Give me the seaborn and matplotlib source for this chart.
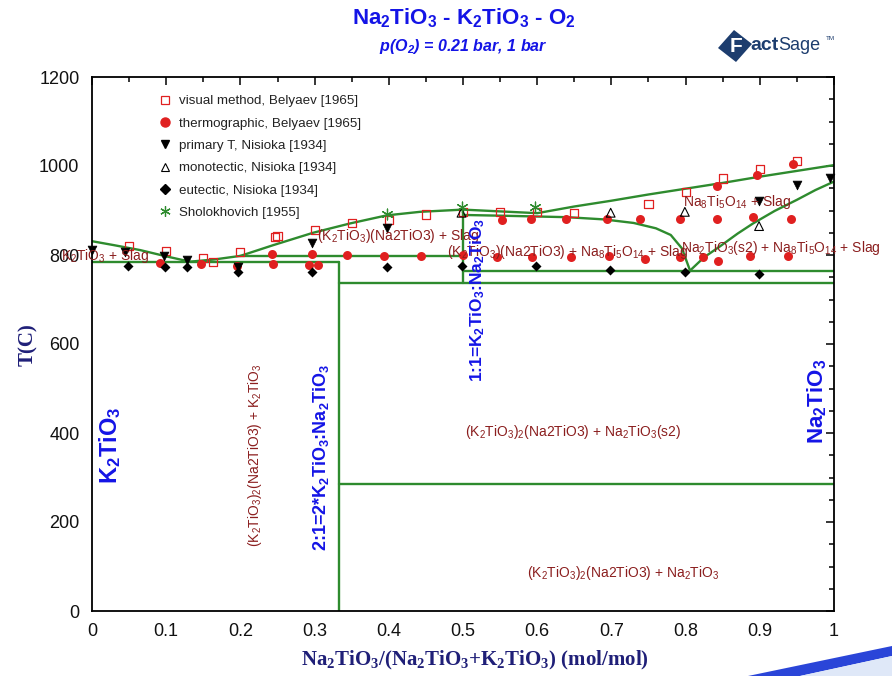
import numpy as np
import pandas as pd
import matplotlib
matplotlib.use("Agg")
import matplotlib.pyplot as plt
import seaborn as sns
from matplotlib.lines import Line2D
from matplotlib.patches import Polygon
from matplotlib.ticker import MultipleLocator

# ---------------- data ----------------
visual_x = [0.05, 0.1, 0.15, 0.163, 0.2, 0.247, 0.25, 0.3, 0.35, 0.4, 0.45, 0.5, 0.55, 0.6, 0.65, 0.75, 0.8, 0.85, 0.9, 0.95]
visual_T = [820, 810, 793, 784, 806, 841, 843, 856, 871, 879, 891, 897, 897, 897, 895, 914, 941, 972, 993, 1012]

thermo_x = [0.092, 0.147, 0.195, 0.242, 0.244, 0.292, 0.297, 0.305, 0.344, 0.393, 0.443, 0.5,
            0.546, 0.552, 0.591, 0.593, 0.639, 0.645, 0.694, 0.697, 0.739, 0.745, 0.792, 0.792,
            0.824, 0.842, 0.843, 0.842, 0.887, 0.891, 0.896, 0.938, 0.942, 0.945]
thermo_T = [782, 780, 776, 802, 779, 778, 802, 778, 800, 798, 798, 800,
            795, 879, 882, 796, 882, 795, 880, 798, 882, 790, 881, 796,
            796, 882, 787, 955, 798, 886, 980, 798, 882, 1004]

primT_x = [0.0, 0.044, 0.097, 0.128, 0.197, 0.297, 0.397, 0.899, 0.95, 0.995]
primT_T = [812, 807, 798, 789, 774, 826, 860, 922, 957, 972]

mono_x = [0.498, 0.699, 0.799, 0.899]
mono_T = [895, 895, 897, 865]

eut_x = [0.048, 0.098, 0.128, 0.197, 0.297, 0.397, 0.498, 0.598, 0.698, 0.799, 0.899]
eut_T = [775, 772, 774, 761, 761, 774, 776, 776, 766, 762, 757]

shol_x = [0.397, 0.498, 0.597]
shol_T = [893, 907, 907]

# calculated phase boundaries
liqK_x = [0.0, 0.03, 0.065, 0.1, 0.132]
liqK_T = [831, 822, 811, 797, 785]
liqMid_x = [0.132, 0.165, 0.2, 0.244, 0.298, 0.348, 0.397, 0.442, 0.5]
liqMid_T = [785, 790, 798, 822, 850, 871, 889, 897, 902]
liqNa_x = [0.5, 0.55, 0.6, 0.65, 0.7, 0.75, 0.8, 0.85, 0.9, 0.95, 1.0]
liqNa_T = [902, 898, 894, 909, 922, 936, 949, 962, 976, 989, 1002]
bndD_x = [0.5, 0.56, 0.64, 0.69, 0.73, 0.76, 0.78, 0.795, 0.806]
bndD_T = [890, 888, 885, 880, 872, 860, 845, 815, 765]
bndE_x = [0.806, 0.825, 0.846, 0.87, 0.891, 0.92, 0.95, 0.975, 1.0]
bndE_T = [765, 795, 819, 848, 871, 899, 924, 946, 965]

hline_T = [785, 798, 765, 738, 285]
hline_x0 = [0.0, 0.2, 0.5, 0.3333, 0.3333]
hline_x1 = [0.3333, 0.5, 1.0, 1.0, 1.0]
vline_x = [0.3333, 0.5]
vline_T0 = [0, 738]
vline_T1 = [785, 902]

xticks = [0, 0.1, 0.2, 0.3, 0.4, 0.5, 0.6, 0.7, 0.8, 0.9, 1]
xtick_labels = ["0", "0.1", "0.2", "0.3", "0.4", "0.5", "0.6", "0.7", "0.8", "0.9", "1"]
yticks = [0, 200, 400, 600, 800, 1000, 1200]

legend_labels = ["visual method, Belyaev [1965]", "thermographic, Belyaev [1965]",
                 "primary T, Nisioka [1934]", "monotectic, Nisioka [1934]",
                 "eutectic, Nisioka [1934]", "Sholokhovich [1955]"]

# ---------------- style ----------------
sns.set_theme(style="white")
plt.rcParams["font.family"] = ["Liberation Sans", "DejaVu Sans"]
plt.rcParams["mathtext.default"] = "regular"

GREEN = "#2e8b2e"
RED = "#e02020"
DRED = "#8b1e1e"
BLUE = "#1414e6"
NAVY = "#1f1f78"

W, H = 892, 676
fig = plt.figure(figsize=(W / 100, H / 100), dpi=100)
ax = fig.add_axes([92 / W, (H - 611) / H, 742 / W, 534 / H])

# ---------------- lines ----------------
segs = []
def add_seg(name, xs, ts):
    for xv, tv in zip(xs, ts):
        segs.append({"seg": name, "x": xv, "T": tv})

add_seg("liqK", liqK_x, liqK_T)
add_seg("liqMid", liqMid_x, liqMid_T)
add_seg("liqNa", liqNa_x, liqNa_T)
add_seg("bndD", bndD_x, bndD_T)
add_seg("bndE", bndE_x, bndE_T)
for i, (t, a, b) in enumerate(zip(hline_T, hline_x0, hline_x1)):
    add_seg(f"h{i}", [a, b], [t, t])
for i, (xv, a, b) in enumerate(zip(vline_x, vline_T0, vline_T1)):
    add_seg(f"v{i}", [xv, xv], [a, b])
lines_df = pd.DataFrame(segs)
sns.lineplot(data=lines_df, x="x", y="T", units="seg", estimator=None, sort=False,
             color=GREEN, lw=1.7, ax=ax, legend=False)

# ---------------- points ----------------
sns.scatterplot(x=visual_x, y=visual_T, marker="s", s=34, color=RED, facecolor="none",
                edgecolor=RED, linewidth=0.9, ax=ax, zorder=5)
sns.scatterplot(x=thermo_x, y=thermo_T, marker="o", s=42, color=RED, edgecolor=RED,
                linewidth=0, ax=ax, zorder=5)
sns.scatterplot(x=primT_x, y=primT_T, marker="v", s=40, color="black", edgecolor="black",
                linewidth=0.5, ax=ax, zorder=5, clip_on=False)
sns.scatterplot(x=mono_x, y=mono_T, marker="^", s=40, color="black", facecolor="none",
                edgecolor="black", linewidth=0.8, ax=ax, zorder=5)
sns.scatterplot(x=eut_x, y=eut_T, marker="D", s=26, color="black", edgecolor="black",
                linewidth=0, ax=ax, zorder=5)
sns.scatterplot(x=shol_x, y=shol_T, marker=(6, 2, 0), s=60, color=GREEN, edgecolor=GREEN,
                linewidth=0.9, ax=ax, zorder=5)

# ---------------- axes ----------------
ax.set_xlim(0, 1)
ax.set_ylim(0, 1200)
ax.set_xticks(xticks)
ax.set_xticklabels(xtick_labels)
ax.set_yticks(yticks)
ax.xaxis.set_minor_locator(MultipleLocator(0.05))
ax.yaxis.set_minor_locator(MultipleLocator(50))
ax.tick_params(which="both", direction="in", top=True, right=True, colors="black",
               labelcolor="#111111", labelsize=13, width=1.1)
ax.tick_params(which="major", length=6, pad=9)
ax.tick_params(which="minor", length=3.5)
ax.set_xlabel("")
ax.set_ylabel("")
for sp in ax.spines.values():
    sp.set_color("black")
    sp.set_linewidth(1.3)
ax.set_facecolor("white")

# ---------------- legend ----------------
handles = [
    Line2D([], [], ls="none", marker="s", ms=5.8, mfc="none", mec=RED, mew=0.9),
    Line2D([], [], ls="none", marker="o", ms=6.5, mfc=RED, mec=RED),
    Line2D([], [], ls="none", marker="v", ms=6.3, mfc="black", mec="black"),
    Line2D([], [], ls="none", marker="^", ms=6.3, mfc="none", mec="black", mew=0.8),
    Line2D([], [], ls="none", marker="D", ms=5.0, mfc="black", mec="black"),
    Line2D([], [], ls="none", marker=(6, 2, 0), ms=7.5, mfc=GREEN, mec=GREEN, mew=0.9),
]
ax.legend(handles, legend_labels, loc="upper left", bbox_to_anchor=(0.090, 0.966),
          frameon=False, fontsize=9.6, handlelength=0.95, handletextpad=0.55,
          labelspacing=0.75, borderpad=0, borderaxespad=0, labelcolor="#222222")

# ---------------- region labels ----------------
tk = dict(color=DRED, fontsize=10, zorder=6)
ax.text(-0.042, 798, r"K$_2$TiO$_3$ + Slag", ha="left", va="center", clip_on=False, **tk)
ax.text(0.303, 843, r"(K$_2$TiO$_3$)(Na2TiO3) + Slag", ha="left", va="center", **tk)
ax.text(0.478, 807, r"(K$_2$TiO$_3$)(Na2TiO3) + Na$_8$Ti$_5$O$_{14}$ + Slag", ha="left", va="center", **tk)
ax.text(0.796, 920, r"Na$_8$Ti$_5$O$_{14}$ + Slag", ha="left", va="center", **tk)
ax.text(0.794, 816, r"Na$_2$TiO$_3$(s2) + Na$_8$Ti$_5$O$_{14}$ + Slag", ha="left", va="center",
        clip_on=False, **tk)
ax.text(0.503, 402, r"(K$_2$TiO$_3$)$_2$(Na2TiO3) + Na$_2$TiO$_3$(s2)", ha="left", va="center", **tk)
ax.text(0.586, 85, r"(K$_2$TiO$_3$)$_2$(Na2TiO3) + Na$_2$TiO$_3$", ha="left", va="center", **tk)
ax.text(0.220, 351, r"(K$_2$TiO$_3$)$_2$(Na2TiO3) + K$_2$TiO$_3$", ha="center", va="center",
        rotation=90, **tk)

bk = dict(color=BLUE, fontweight="bold", zorder=6, rotation=90, ha="center", va="center")
ax.text(0.309, 346, r"2:1=2*K$_2$TiO$_3$:Na$_2$TiO$_3$", fontsize=13, **bk)
ax.text(0.520, 699, r"1:1=K$_2$TiO$_3$:Na$_2$TiO$_3$", fontsize=12.5, **bk)
ax.text(0.024, 372, r"K$_2$TiO$_3$", fontsize=17, **bk)
ax.text(0.978, 470, r"Na$_2$TiO$_3$", fontsize=16, **bk)

# ---------------- titles and axis labels ----------------
fig.text(464 / W, 1 - 18 / H, r"Na$_2$TiO$_3$ - K$_2$TiO$_3$ - O$_2$", ha="center", va="center",
         color=BLUE, fontsize=16, fontweight="bold")
fig.text(463 / W, 1 - 46 / H, r"p(O$_2$) = 0.21 bar, 1 bar", ha="center", va="center",
         color=BLUE, fontsize=11.5, fontweight="bold", style="italic")
fig.text(475 / W, 1 - 660 / H, r"Na$_2$TiO$_3$/(Na$_2$TiO$_3$+K$_2$TiO$_3$) (mol/mol)",
         ha="center", va="center", color=NAVY, fontsize=15, fontweight="bold",
         family=["Liberation Serif", "DejaVu Serif"])
fig.text(28 / W, 1 - 345 / H, "T(C)", ha="center", va="center", rotation=90, color=NAVY,
         fontsize=15, fontweight="bold", family=["Liberation Serif", "DejaVu Serif"])

# ---------------- FactSage logo ----------------
def px(xp, yp):
    return (xp / W, 1 - yp / H)

logo = Polygon([px(734, 30), px(752, 44), px(736, 62), px(718, 48)], closed=True,
               transform=fig.transFigure, facecolor="#1d3d6e", edgecolor="none")
fig.add_artist(logo)
fig.text(*px(736, 46), "F", ha="center", va="center", color="white", fontsize=15,
         fontweight="bold")
fig.text(*px(750, 46), "act", ha="left", va="center", color="#1d3d6e", fontsize=14,
         fontweight="bold")
fig.text(*px(778, 46), "Sage", ha="left", va="center", color="#1d3d6e", fontsize=13,
         family=["Liberation Sans Narrow", "Liberation Sans"])
fig.text(*px(826, 38), "TM", ha="left", va="center", color="#1d3d6e", fontsize=4.5)

# ---------------- decorative swoosh ----------------
sw = Polygon([px(748, 676), px(892, 646), px(892, 656), px(800, 676)], closed=True,
             transform=fig.transFigure, facecolor="#2a45d8", edgecolor="none")
fig.add_artist(sw)
sw2 = Polygon([px(800, 676), px(892, 656), px(892, 676)], closed=True,
              transform=fig.transFigure, facecolor="#dfe8f8", edgecolor="none")
fig.add_artist(sw2)

fig.savefig("out.png", dpi=100, facecolor="white")
